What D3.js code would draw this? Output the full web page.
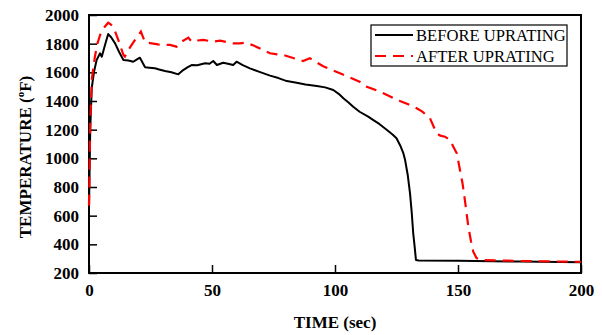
<!DOCTYPE html>
<html><head><meta charset="utf-8">
<script src="https://cdn.jsdelivr.net/npm/d3@7"></script>
<style>body{margin:0;background:#fff}svg{display:block}</style>
</head><body>
<svg id="c" width="602" height="335"></svg>
<script>
const xTicks = [0, 50, 100, 150, 200];
const yTicks = [200, 400, 600, 800, 1000, 1200, 1400, 1600, 1800, 2000];
const seriesNames = ["BEFORE UPRATING", "AFTER UPRATING"];
const beforeT = [0, 0.5, 1.1, 2, 3.1, 4.5, 5.2, 6.5, 7.8, 9, 10.6, 12.3, 14, 16, 18, 19.5, 20.7, 22.8, 24.5, 26.8, 28.5, 30.9, 33.5, 36.3, 38.3, 40, 41.7, 44, 47.2, 49, 50.5, 52, 54.5, 56.5, 58.6, 60, 62.5, 65.4, 69, 73.6, 77, 80.4, 84.4, 88, 92.6, 96, 99.3, 101.5, 103.4, 105.5, 107.4, 110, 113.5, 115.6, 118, 121, 123.5, 125, 126.5, 127.7, 128.5, 129.6, 130.5, 131.2, 131.8, 132.4, 132.9, 134, 150, 175, 200];
const beforeV = [650, 1200, 1489, 1600, 1686, 1733, 1709, 1790, 1867, 1845, 1802, 1740, 1686, 1682, 1674, 1690, 1702, 1635, 1632, 1628, 1620, 1609, 1600, 1586, 1616, 1635, 1651, 1650, 1663, 1660, 1679, 1651, 1667, 1660, 1651, 1674, 1650, 1628, 1605, 1577, 1560, 1539, 1528, 1515, 1505, 1495, 1477, 1450, 1419, 1390, 1360, 1325, 1291, 1267, 1240, 1200, 1165, 1140, 1090, 1040, 988, 880, 756, 620, 477, 380, 291, 287, 285, 280, 275];
const afterT = [0, 0.5, 1.2, 2.4, 3.4, 4.5, 6, 7.8, 8.8, 9.9, 11.9, 14, 14.6, 16, 18.7, 21.1, 22.8, 25.5, 28, 30.2, 32.9, 35.6, 37.7, 40.4, 41.7, 44, 46.5, 50.5, 53.3, 58.7, 61.4, 63.4, 66.5, 69.5, 71.5, 73.6, 76.5, 79, 83, 87, 89.8, 92.5, 95.2, 98.5, 102, 106, 110, 112.9, 118.3, 122, 126.4, 130, 133.2, 135.5, 138.6, 141.3, 142.8, 144.7, 146.7, 148.1, 149.5, 150.8, 151.8, 152.8, 154.2, 155.3, 156.2, 157.5, 158.9, 175, 200];
const afterV = [670, 1250, 1560, 1709, 1800, 1860, 1910, 1946, 1935, 1918, 1826, 1721, 1710, 1756, 1826, 1884, 1809, 1802, 1795, 1791, 1791, 1779, 1814, 1842, 1814, 1822, 1826, 1814, 1821, 1802, 1802, 1807, 1790, 1767, 1750, 1733, 1725, 1721, 1700, 1679, 1698, 1670, 1642, 1618, 1593, 1565, 1535, 1500, 1465, 1435, 1400, 1375, 1349, 1326, 1280, 1175, 1158, 1151, 1128, 1081, 1035, 919, 830, 709, 523, 420, 349, 305, 291, 284, 278];

const svg = d3.select("#c");
const L = 89, R = 581, T = 15, B = 273;
const x = d3.scaleLinear().domain([0, 200]).range([L, R]);
const y = d3.scaleLinear().domain([200, 2000]).range([B, T]);
const font = "'Liberation Serif','Times New Roman',serif";

const xa = svg.append("g").attr("transform", `translate(0,${B})`)
  .call(d3.axisBottom(x).tickValues(xTicks).tickSizeInner(-8).tickSizeOuter(0).tickPadding(12).tickFormat(d3.format("d")));
const ya = svg.append("g").attr("transform", `translate(${L},0)`)
  .call(d3.axisLeft(y).tickValues(yTicks).tickSizeInner(-8).tickSizeOuter(0).tickPadding(10).tickFormat(d3.format("d")));
[xa, ya].forEach(a => {
  a.select(".domain").remove();
  a.selectAll("line").attr("stroke", "#000").attr("stroke-width", 1.5);
  a.selectAll("text").attr("font-family", font).attr("font-weight", "bold").attr("font-size", 17).attr("fill", "#000");
});
xa.selectAll("text").attr("dy", "0.71em").attr("y", 11);

svg.append("rect").attr("x", L).attr("y", T).attr("width", R - L).attr("height", B - T)
  .attr("fill", "none").attr("stroke", "#000").attr("stroke-width", 2);

const line = d3.line().x(d => x(d[0])).y(d => y(d[1]));
const before = beforeT.map((t, i) => [t, beforeV[i]]);
const after = afterT.map((t, i) => [t, afterV[i]]);
svg.append("path").datum(before).attr("d", line).attr("fill", "none").attr("stroke", "#000").attr("stroke-width", 2).attr("stroke-linejoin", "round");
svg.append("path").datum(after).attr("d", line).attr("fill", "none").attr("stroke", "#f00").attr("stroke-width", 2.2).attr("stroke-dasharray", "11,7");

const lg = svg.append("g");
lg.append("rect").attr("x", 371).attr("y", 25).attr("width", 196).attr("height", 41).attr("fill", "#fff").attr("stroke", "#000").attr("stroke-width", 1.2);
const ls = [{n: seriesNames[0], c: "#000", d: null}, {n: seriesNames[1], c: "#f00", d: "11,7"}];
ls.forEach((s, i) => {
  const yy = 35 + i * 21;
  lg.append("line").attr("x1", 375).attr("x2", 413).attr("y1", yy).attr("y2", yy)
    .attr("stroke", s.c).attr("stroke-width", 2).attr("stroke-dasharray", s.d);
  lg.append("text").attr("x", 416).attr("y", yy + 6).text(s.n)
    .attr("font-family", font).attr("font-size", 16.6).attr("fill", "#000");
});

svg.append("text").attr("x", 335).attr("y", 328).attr("text-anchor", "middle")
  .attr("font-family", font).attr("font-weight", "bold").attr("font-size", 17).text("TIME (sec)");
const yl = svg.append("text").attr("transform", "translate(31,157) rotate(-90)").attr("text-anchor", "middle")
  .attr("font-family", font).attr("font-weight", "bold").attr("font-size", 17);
yl.append("tspan").text("TEMPERATURE (");
yl.append("tspan").attr("font-size", 11).attr("dy", -7).text("o");
yl.append("tspan").attr("dy", 7).text("F)");
</script>
</body></html>
